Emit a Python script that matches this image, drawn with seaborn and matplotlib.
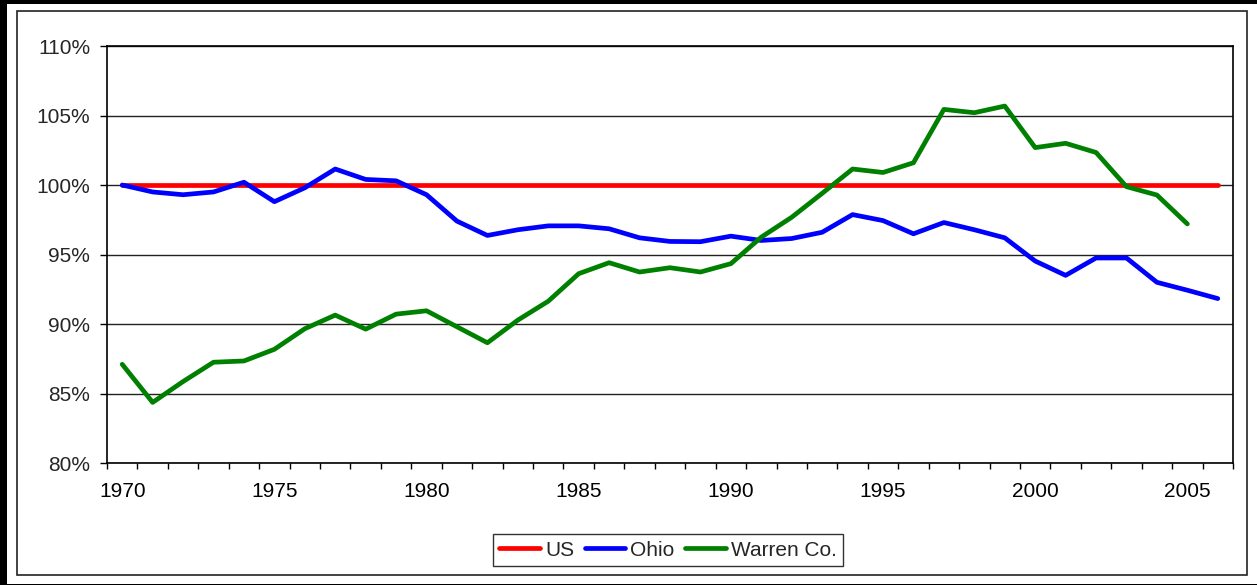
"""Employment ratio vs US: US, Ohio and Warren Co., 1970-2006."""

import matplotlib

matplotlib.use("Agg")
import matplotlib.pyplot as plt
import matplotlib.ticker as mticker
import pandas as pd
import seaborn as sns
from matplotlib.patches import Rectangle

years = list(range(1970, 2007))

us = [1.0] * 37

ohio = [
    1.000, 0.995, 0.993, 0.995, 1.002, 0.988, 0.998, 1.0115, 1.004, 1.003,
    0.993, 0.974, 0.9637, 0.9678, 0.9706, 0.9706, 0.9685, 0.962, 0.9594, 0.9592,
    0.9632, 0.9601, 0.9615, 0.966, 0.9787, 0.9744, 0.9649, 0.973, 0.9678, 0.962,
    0.9453, 0.935, 0.9475, 0.9475, 0.930, 0.9243, 0.9183,
]

warren = [
    0.871, 0.8436, 0.8586, 0.8725, 0.8734, 0.8818, 0.8966, 0.9064, 0.8963, 0.9071,
    0.9095, 0.898, 0.8865, 0.9028, 0.9164, 0.9362, 0.9441, 0.9374, 0.9405, 0.9374,
    0.9434, 0.9625, 0.9768, 0.994, 1.0115, 1.009, 1.016, 1.0544, 1.052, 1.0568,
    1.0269, 1.030, 1.0234, 0.9988, 0.9928, 0.972,
]

series_names = ["US", "Ohio", "Warren Co."]
series_colors = {"US": "#FF0000", "Ohio": "#0000FF", "Warren Co.": "#008000"}


def build_frame() -> pd.DataFrame:
    parts = []
    for name, values in zip(series_names, [us, ohio, warren]):
        parts.append(pd.DataFrame({"year": years[: len(values)], "ratio": values, "series": name}))
    return pd.concat(parts, ignore_index=True)


def main() -> None:
    sns.set_theme(style="white")
    plt.rcParams["font.family"] = ["Liberation Sans", "DejaVu Sans"]

    W, H = 1257, 585
    fig = plt.figure(figsize=(W / 100, H / 100), dpi=100)
    ax = fig.add_axes([107 / W, (H - 463) / H, (1233 - 107) / W, (463 - 46) / H])

    df = build_frame()
    sns.lineplot(
        data=df,
        x="year",
        y="ratio",
        hue="series",
        hue_order=series_names,
        palette=series_colors,
        linewidth=3.4,
        solid_capstyle="round",
        ax=ax,
    )

    ax.set_xlim(1969.5, 2006.5)
    ax.set_ylim(0.80, 1.10)
    ax.set_xlabel("")
    ax.set_ylabel("")

    ax.yaxis.set_major_locator(mticker.MultipleLocator(0.05))
    ax.yaxis.set_major_formatter(mticker.PercentFormatter(xmax=1, decimals=0))
    ax.grid(axis="y", color="#222222", linewidth=1.0)
    ax.set_axisbelow(True)

    ax.set_xticks(years[::5])
    ax.set_xticklabels([str(y) for y in years[::5]])
    ax.set_xticks([y - 0.5 for y in years] + [years[-1] + 0.5], minor=True)
    ax.tick_params(axis="x", which="major", length=0, pad=13.5, labelsize=15, colors="black")
    ax.tick_params(axis="x", which="minor", direction="out", length=4.3, width=1, color="black", bottom=True)
    ax.tick_params(axis="y", which="major", direction="out", length=5, width=1, pad=7, labelsize=15,
                   color="black", left=True)

    for side in ["left", "bottom", "top", "right"]:
        ax.spines[side].set_visible(True)
        ax.spines[side].set_color("black")
        ax.spines[side].set_linewidth(1.2)

    handles, labels = ax.get_legend_handles_labels()
    ax.get_legend().remove()
    leg = fig.legend(
        handles,
        labels,
        loc="center",
        bbox_to_anchor=(668 / W, (H - 550) / H),
        ncol=3,
        fontsize=15,
        frameon=True,
        fancybox=False,
        edgecolor="black",
        borderpad=0.3,
        handlelength=1.95,
        handletextpad=0.25,
        columnspacing=0.5,
        borderaxespad=0,
    )
    leg.get_frame().set_linewidth(1.0)

    # chart-area border and outer black frame
    fig.patches.append(Rectangle((17 / W, 10 / H), (1247 - 17) / W, (575 - 11) / H,
                                 transform=fig.transFigure, fill=False, edgecolor="#222222",
                                 linewidth=1.2, zorder=0))
    fig.patches.append(Rectangle((0, 0), 7 / W, 1, transform=fig.transFigure,
                                 facecolor="black", edgecolor="none"))
    fig.patches.append(Rectangle((0, 1 - 4 / H), 1, 4 / H, transform=fig.transFigure,
                                 facecolor="black", edgecolor="none"))
    fig.patches.append(Rectangle((0, 0), 1, 1.5 / H, transform=fig.transFigure,
                                 facecolor="black", edgecolor="none"))

    fig.savefig("out.png", dpi=100, facecolor="white")
    plt.close(fig)


if __name__ == "__main__":
    main()
